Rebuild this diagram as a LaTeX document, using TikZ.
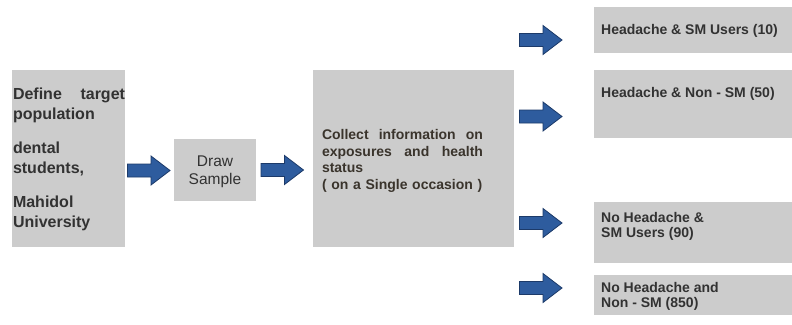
\documentclass[tikz,border=0pt]{standalone}
\usepackage{fontspec}
\setmainfont{Liberation Sans}
\usetikzlibrary{positioning}
\definecolor{boxgray}{RGB}{204,204,204}
\definecolor{arrowfill}{RGB}{46,92,158}
\definecolor{arrowline}{RGB}{28,58,105}
\definecolor{txtdark}{RGB}{50,50,50}
\definecolor{txtbrown}{RGB}{58,52,44}
\tikzset{
  graybox/.style={fill=boxgray, draw=none, inner sep=0pt, rectangle},
  blocktext/.style={inner sep=0pt, text=txtdark, font=\bfseries\fontsize{14}{15}\selectfont, anchor=west, align=left},
  blockarrow/.pic={
    \filldraw[fill=arrowfill, draw=arrowline, line width=0.8pt, line join=miter]
      (-21,-6.5) -- (2.5,-6.5) -- (2.5,-14.5) -- (21.5,0) -- (2.5,14.5) -- (2.5,6.5) -- (-21,6.5) -- cycle;
  }
}
\begin{document}
\begin{tikzpicture}[x=1pt,y=-1pt]
\useasboundingbox (0,0) rectangle (792,324);
% boxes
\node[graybox, minimum width=113pt, minimum height=177pt] (def) at (68.5,158.5) {};
\node[graybox, minimum width=82pt, minimum height=62pt] (draw) at (215,170) {};
\node[graybox, minimum width=201pt, minimum height=177pt] (coll) at (413.5,158.5) {};
\node[graybox, minimum width=198pt, minimum height=46pt] (r1) at (693,30) {};
\node[graybox, minimum width=198pt, minimum height=68pt] (r2) at (693,104) {};
\node[graybox, minimum width=198pt, minimum height=61pt] (r3) at (693,232.5) {};
\node[graybox, minimum width=198pt, minimum height=40pt] (r4) at (693,295) {};
% texts
\node[inner sep=0pt, text=txtdark, text width=112pt, align=left,
      font=\bfseries\fontsize{16}{19.5}\selectfont] (deftext) at (69,159.5)
  {Define\hfill target\\population\\[15pt]dental\\students,\\[15pt]Mahidol\\University};
\node[inner sep=0pt, text=txtdark, align=center,
      font=\fontsize{15.5}{18}\selectfont] (drawtext) at (215,172) {Draw\\Sample};
\node[inner sep=0pt, text=txtbrown, text width=161pt, align=left,
      font=\bfseries\fontsize{14}{16.5}\selectfont] (colltext) at (402.5,161)
  {Collect\hfill information\hfill on\\exposures\hfill and\hfill health\\status\\( on a Single occasion )};
\node[blocktext] (r1text) at (601,31) {Headache \& SM Users (10)};
\node[blocktext] (r2text) at (601,94) {Headache \& Non - SM (50)};
\node[blocktext] (r3text) at (601,226.5) {No Headache \&\\SM Users (90)};
\node[blocktext] (r4text) at (601,296.5) {No Headache and\\Non - SM (850)};
% block arrows
\pic (a1) at (148.5,170.5) {blockarrow};
\pic (a2) at (282,170) {blockarrow};
\pic (a3) at (540.5,40) {blockarrow};
\pic (a4) at (540.5,116.5) {blockarrow};
\pic (a5) at (540.5,223) {blockarrow};
\pic (a6) at (540.5,288) {blockarrow};
\end{tikzpicture}
\end{document}
